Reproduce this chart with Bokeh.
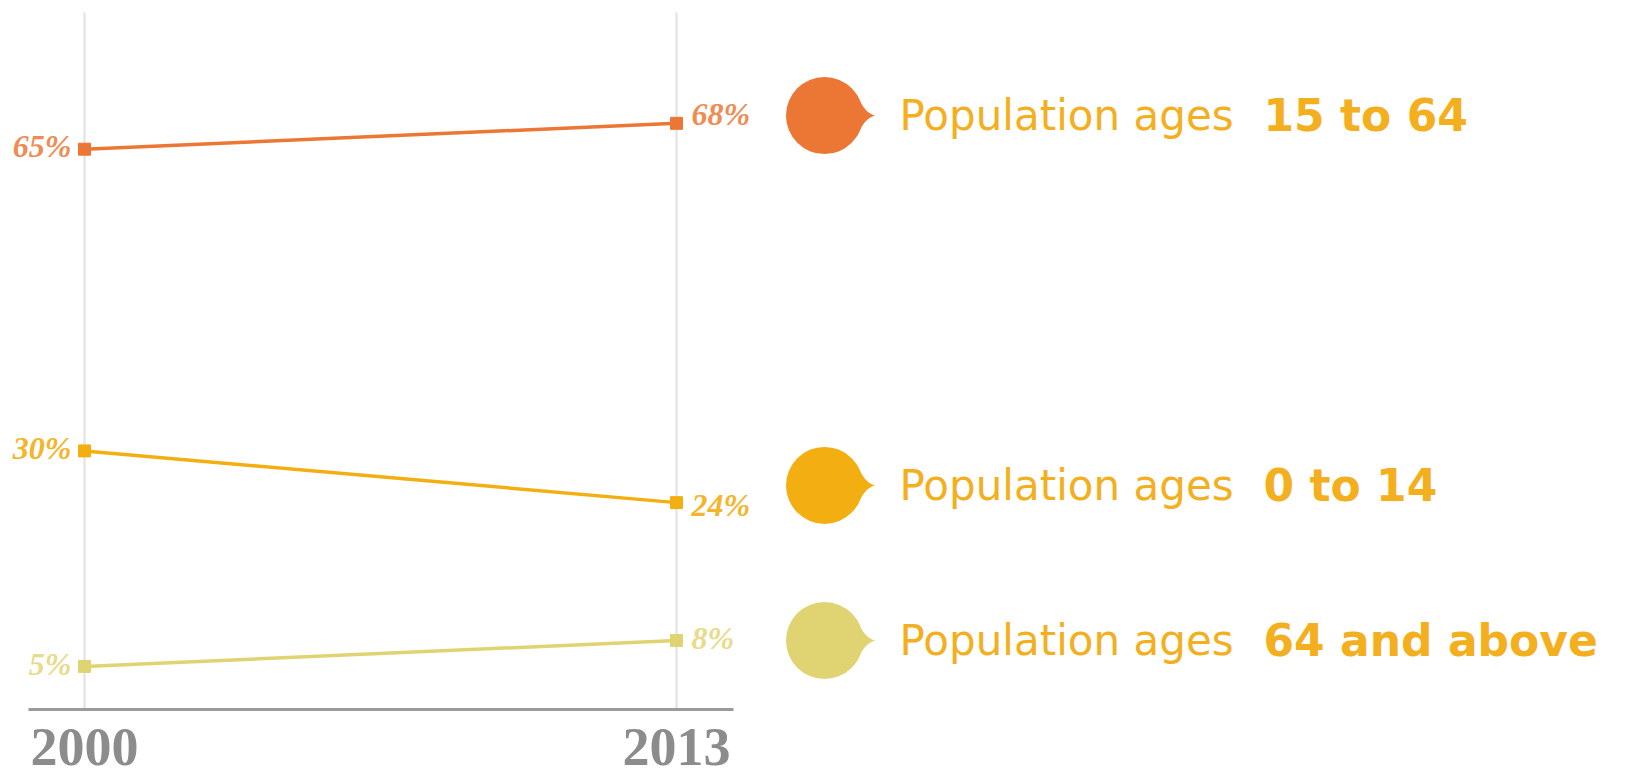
from bokeh.plotting import figure
from bokeh.models import FixedTicker, Range1d
from bokeh.core.properties import value
from bokeh.embed import file_html
from bokeh.resources import INLINE

# ---------------- data ----------------
years = [2000, 2013]
age_groups = ["15 to 64", "0 to 14", "64 and above"]
share_15_64 = [65, 68]
share_0_14 = [30, 24]
share_64_up = [5, 8]
series = [share_15_64, share_0_14, share_64_up]

# ---------------- style / layout ----------------
line_colors = ["#EC7633", "#F3AF11", "#E0D372"]
label_colors = ["#EF8C54", "#F4B52C", "#E8DC8C"]
legend_text_color = "#F3AF1E"
label_dy_left = [-3, -3, -2]
label_dy_right = [-9, 2, -3]

W, H = 1635, 772
PX_PER_YEAR = 592 / 13
PX_PER_PCT = 8.62
ZERO_FROM_TOP = 709
x_start = 2000 - 84 / PX_PER_YEAR
x_end = x_start + W / PX_PER_YEAR
y_end = ZERO_FROM_TOP / PX_PER_PCT
y_start = -(H - ZERO_FROM_TOP) / PX_PER_PCT
axis_bounds = (x_start + 28 / PX_PER_YEAR, x_start + 733 / PX_PER_YEAR)
grid_top = (ZERO_FROM_TOP - 12) / PX_PER_PCT

legend_x = x_start + 824 / PX_PER_YEAR
legend_y = [68.9, 26.0, 8.0]

p = figure(width=W, height=H,
           x_range=Range1d(x_start, x_end), y_range=Range1d(y_start, y_end),
           output_backend="svg", toolbar_location=None, tools="",
           y_axis_location=None, min_border=0)
p.outline_line_color = None
p.grid.visible = False
p.background_fill_color = "white"
p.border_fill_color = "white"

ax = p.xaxis[0]
ax.fixed_location = 0
ax.bounds = axis_bounds
ax.ticker = FixedTicker(ticks=years)
ax.major_tick_line_color = None
ax.minor_tick_line_color = None
ax.axis_line_color = "#9B9B9B"
ax.axis_line_width = 3
ax.major_label_text_font = "Liberation Serif"
ax.major_label_text_font_style = "bold"
ax.major_label_text_font_size = "54px"
ax.major_label_text_color = "#8C8C8C"
ax.major_label_standoff = 13

# vertical guide lines at the years
p.segment(x0=years, y0=[0] * len(years), x1=years, y1=[grid_top] * len(years),
          line_color="#E6E6E6", line_width=2.5)

for vals, lc, tc, dyl, dyr in zip(series, line_colors, label_colors, label_dy_left, label_dy_right):
    p.line(years, vals, line_color=lc, line_width=3.5)
    p.scatter(years, vals, marker="square", size=12, fill_color=lc, line_color=lc)
    p.text(x=[years[0]], y=[vals[0]], text=[f"{vals[0]}%"], x_offset=-13, y_offset=dyl,
           text_align="right", text_baseline="middle",
           text_font=value("Liberation Serif"), text_font_style="bold italic",
           text_font_size="32px", text_color=tc)
    p.text(x=[years[1]], y=[vals[1]], text=[f"{vals[1]}%"], x_offset=15, y_offset=dyr,
           text_align="left", text_baseline="middle",
           text_font=value("Liberation Serif"), text_font_style="bold italic",
           text_font_size="32px", text_color=tc)


def bez(p0, c, p2, n=12):
    pts = []
    for i in range(n + 1):
        t = i / n
        x = (1 - t) ** 2 * p0[0] + 2 * (1 - t) * t * c[0] + t ** 2 * p2[0]
        y = (1 - t) ** 2 * p0[1] + 2 * (1 - t) * t * c[1] + t ** 2 * p2[1]
        pts.append((x, y))
    return pts


tail_px = [(20, 25)] + bez((33, 20), (40, 2), (51, 0)) + bez((51, 0), (40, -2), (33, -20)) + [(20, -25)]

for name, col, ly in zip(age_groups, line_colors, legend_y):
    p.scatter([legend_x], [ly], marker="circle", size=77, fill_color=col, line_color=None)
    xs = [legend_x + dx / PX_PER_YEAR for dx, dy in tail_px]
    ys = [ly + dy / PX_PER_PCT for dx, dy in tail_px]
    p.patches([xs], [ys], fill_color=col, line_color=None)
    p.text(x=[legend_x], y=[ly], text=["Population ages"], x_offset=75, y_offset=0,
           text_align="left", text_baseline="alphabetic",
           text_font=value("DejaVu Sans"), text_font_size="42px",
           text_color=legend_text_color)
    p.text(x=[legend_x], y=[ly], text=[name], x_offset=439, y_offset=0,
           text_align="left", text_baseline="alphabetic",
           text_font=value("DejaVu Sans"), text_font_style="bold", text_font_size="44px",
           text_color=legend_text_color)

open("out.html", "w").write(file_html(p, INLINE))
